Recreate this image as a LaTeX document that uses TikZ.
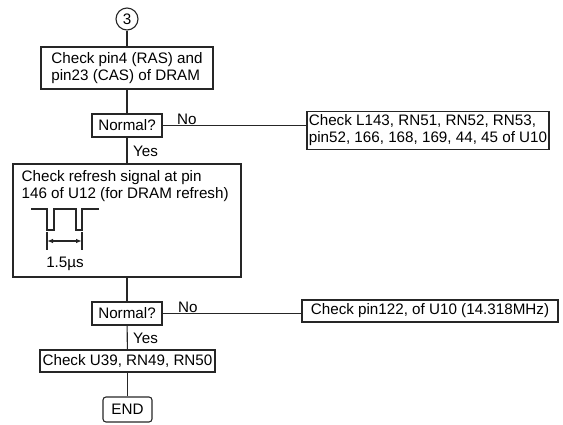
\documentclass[tikz,border=0pt]{standalone}
\usepackage{fontspec}
\setmainfont{Liberation Sans}
\usetikzlibrary{arrows.meta,calc}
\begin{document}
\begin{tikzpicture}[x=1pt,y=-1pt,
  every node/.style={font=\fontsize{15.2}{17}\selectfont, inner sep=0pt},
  line/.style={line width=1.1pt, draw=black!85},
  boxstyle/.style={draw=black!85, line width=1.1pt, align=left}]
\useasboundingbox (0,0) rectangle (563,424);
% nodes
\node[draw=black!85, line width=1.1pt, circle, minimum size=22pt] (c3) at (127,19) {3};
\node[boxstyle, minimum width=172pt, minimum height=42pt] (b1) at (127,68) {Check pin4 (RAS) and\\pin23 (CAS) of DRAM};
\node[boxstyle, minimum width=70pt, minimum height=23pt] (n1) at (127,125.5) {Normal?};
\node[boxstyle, minimum width=242pt, minimum height=38pt] (r1) at (428,130.5) {Check L143, RN51, RN52, RN53,\\pin52, 166, 168, 169, 44, 45 of U10};
\node[boxstyle, minimum width=228pt, minimum height=113pt] (b3) at (127,220.5) {};
\node[align=left, anchor=north west] (t3) at ($(b3.north west)+(9,7)$) {Check refresh signal at pin\\146 of U12 (for DRAM refresh)};
\node[boxstyle, minimum width=70pt, minimum height=23pt] (n2) at (127,313.5) {Normal?};
\node[boxstyle, minimum width=256pt, minimum height=22pt] (r2) at (430,311) {Check pin122, of U10 (14.318MHz)};
\node[boxstyle, minimum width=175pt, minimum height=22pt] (b5) at (127.5,361) {Check U39, RN49, RN50};
\node[boxstyle, rounded corners=3pt, minimum width=49pt, minimum height=25pt] (e) at (127.5,409.5) {END};
% labels
\node[anchor=south west] (no1) at (177,125) {No};
\node[anchor=west] (yes1) at (133,151) {Yes};
\node[anchor=south west] (no2) at (178,313) {No};
\node[anchor=west] (yes2) at (133,338) {Yes};
% connectors
\draw[line] (c3) -- (b1);
\draw[line] (b1) -- (n1);
\draw[line] (n1.east) -- (n1.east -| r1.west);
\draw[line] (n1) -- (b3);
\draw[line] (b3) -- (n2);
\draw[line] (n2.east) -- (n2.east -| r2.west);
\draw[line] (n2) -- (b5);
\draw[line] (b5) -- (e);
% waveform
\coordinate (w0) at (31,209);
\draw[line] (w0) -- (47,209) -- (47,230) -- (54,230) -- (54,209) -- (76,209) -- (76,230) -- (82,230) -- (82,209) -- (99,209);
\coordinate (ta) at (47,232);
\coordinate (tb) at (82,232);
\draw[line] (ta) -- ++(0,18);
\draw[line] (tb) -- ++(0,18);
\draw[line, {Latex[length=6pt,width=4.5pt]}-{Latex[length=6pt,width=4.5pt]}] ($(ta)+(0,9)$) -- ($(tb)+(0,9)$);
\node (dim) at (65,264) {1.5µs};
\end{tikzpicture}
\end{document}
